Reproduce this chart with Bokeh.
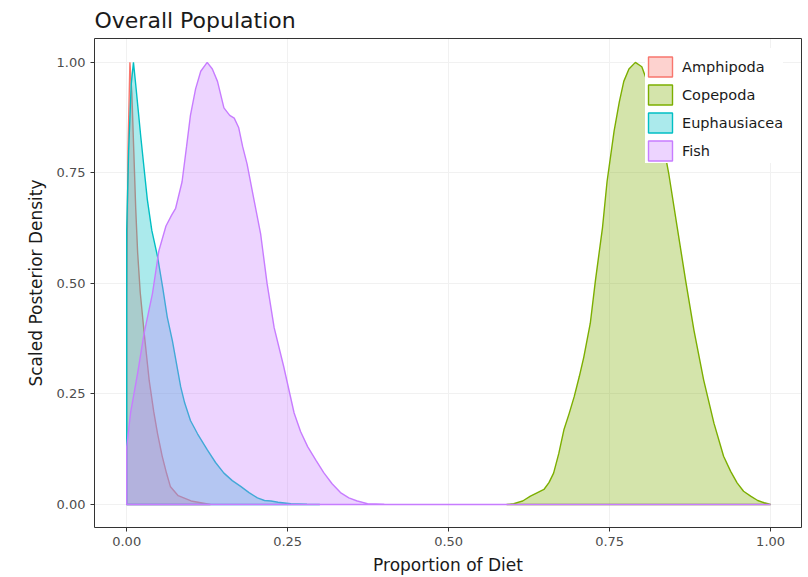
from bokeh.plotting import figure
from bokeh.models import (Range1d, FixedTicker, PrintfTickFormatter, Legend, LegendItem,
                          LinearAxis)
from bokeh.embed import file_html
from bokeh.resources import INLINE

# Prey groups and their colours
groups = ["Amphipoda", "Copepoda", "Euphausiacea", "Fish"]
colors = ["#F8766D", "#7CAE00", "#00BFC4", "#C77CFF"]

# Scaled posterior densities (proportion of diet -> density scaled to max 1)
amph_x = [0.0, 0.0, 0.002, 0.005, 0.008, 0.011, 0.014, 0.017, 0.021, 0.027, 0.035,
          0.042, 0.048, 0.055, 0.062, 0.068, 0.08, 0.1, 0.13]
amph_y = [0.0, 0.45, 0.8, 1.0, 0.93, 0.8, 0.67, 0.57, 0.48, 0.39, 0.28,
          0.21, 0.16, 0.11, 0.07, 0.04, 0.02, 0.008, 0.0]

cope_x = [0.59, 0.601, 0.615, 0.627, 0.638, 0.648, 0.656, 0.663, 0.671, 0.679, 0.687,
          0.695, 0.703, 0.71, 0.72, 0.728, 0.739, 0.746, 0.757, 0.765, 0.772, 0.78,
          0.79, 0.80, 0.815, 0.83, 0.842, 0.855, 0.868, 0.881, 0.896, 0.912, 0.927,
          0.938, 0.948, 0.958, 0.969, 0.98, 0.99, 1.0]
cope_y = [0.0, 0.002, 0.008, 0.019, 0.027, 0.034, 0.05, 0.071, 0.115, 0.169, 0.205,
          0.244, 0.29, 0.334, 0.41, 0.507, 0.627, 0.73, 0.845, 0.91, 0.957, 0.985,
          1.0, 0.99, 0.93, 0.84, 0.747, 0.627, 0.507, 0.394, 0.282, 0.184, 0.109,
          0.075, 0.049, 0.03, 0.019, 0.009, 0.004, 0.0]

euph_x = [0.0, 0.0, 0.003, 0.007, 0.0105, 0.014, 0.018, 0.022, 0.027, 0.032, 0.039,
          0.048, 0.056, 0.063, 0.071, 0.0784, 0.0839, 0.09, 0.099, 0.11, 0.125, 0.138,
          0.151, 0.164, 0.177, 0.19, 0.203, 0.214, 0.224, 0.235, 0.255, 0.28, 0.3]
euph_y = [0.0, 0.62, 0.8, 0.95, 1.0, 0.95, 0.89, 0.83, 0.76, 0.69, 0.62,
          0.56, 0.49, 0.424, 0.37, 0.31, 0.266, 0.23, 0.19, 0.16, 0.124, 0.095,
          0.071, 0.054, 0.041, 0.027, 0.015, 0.009, 0.008, 0.005, 0.002, 0.0005, 0.0]

fish_x = [0.0, 0.0, 0.006, 0.017, 0.027, 0.04, 0.05, 0.061, 0.07, 0.076, 0.086,
          0.093, 0.099, 0.107, 0.115, 0.125, 0.133, 0.141, 0.151, 0.16, 0.167, 0.174,
          0.18, 0.187, 0.198, 0.208, 0.218, 0.229, 0.244, 0.26, 0.27, 0.281, 0.294,
          0.306, 0.319, 0.332, 0.345, 0.358, 0.374, 0.4, 1.0]
fish_y = [0.0, 0.13, 0.207, 0.297, 0.387, 0.477, 0.574, 0.63, 0.655, 0.67, 0.73,
          0.81, 0.88, 0.94, 0.98, 1.0, 0.985, 0.957, 0.897, 0.88, 0.874, 0.852,
          0.81, 0.77, 0.687, 0.612, 0.5, 0.40, 0.311, 0.207, 0.165, 0.131, 0.1,
          0.072, 0.047, 0.027, 0.015, 0.008, 0.002, 0.0005, 0.0]

series = [(amph_x, amph_y), (cope_x, cope_y), (euph_x, euph_y), (fish_x, fish_y)]

x_ticks = [0.0, 0.25, 0.5, 0.75, 1.0]
y_ticks = [0.0, 0.25, 0.5, 0.75, 1.0]

FONT = "DejaVu Sans"
EDGE = "#333333"

p = figure(width=808, height=577, output_backend="svg", toolbar_location=None,
           x_range=Range1d(-0.05, 1.048), y_range=Range1d(-0.052, 1.054),
           min_border_left=94, min_border_right=7, min_border_top=37,
           min_border_bottom=49, title="Overall Population")

p.background_fill_color = "white"
p.border_fill_color = "white"
# panel border: left/bottom come from the axes, top/right from bare axes below
p.outline_line_color = None

p.title.text_font = FONT
p.title.text_font_size = "22px"
p.title.text_font_style = "normal"
p.title.text_color = "#1a1a1a"
p.title.offset = 0
p.title.standoff = 11

for ax, ticks, label in ((p.xaxis[0], x_ticks, "Proportion of Diet"),
                         (p.yaxis[0], y_ticks, "Scaled Posterior Density")):
    ax.ticker = FixedTicker(ticks=ticks)
    ax.formatter = PrintfTickFormatter(format="%.2f")
    ax.axis_label = label
    ax.axis_label_text_font = FONT
    ax.axis_label_text_font_size = "17px"
    ax.axis_label_text_font_style = "normal"
    ax.axis_label_text_color = "#1a1a1a"
    ax.major_label_text_font = FONT
    ax.major_label_text_font_size = "13px"
    ax.major_label_text_color = "#4d4d4d"
    ax.axis_line_color = EDGE
    ax.major_tick_line_color = EDGE
    ax.major_tick_out = 4
    ax.major_tick_in = 0
    ax.minor_tick_line_color = None
    ax.major_label_standoff = 5

p.xaxis[0].axis_label_standoff = 6
p.yaxis[0].axis_label_standoff = 8

# bare top and right edges of the panel box
for side in ("above", "right"):
    edge = LinearAxis(ticker=FixedTicker(ticks=[]), axis_line_color=EDGE,
                      major_tick_line_color=None, minor_tick_line_color=None,
                      major_label_text_font_size="0px", major_tick_out=0,
                      major_tick_in=0, major_label_standoff=0)
    p.add_layout(edge, side)

p.xgrid.grid_line_color = "#f1f1f1"
p.ygrid.grid_line_color = "#f1f1f1"

items = []
for name, col, (xs, ys) in zip(groups, colors, series):
    r = p.patch(xs, ys, fill_color=col, fill_alpha=0.33, line_color=col, line_width=1.4)
    items.append(LegendItem(label=name, renderers=[r]))

legend = Legend(items=items, location=(551, 364))
legend.title = " "
legend.title_text_font_size = "6px"
legend.title_standoff = 0
legend.label_text_font = FONT
legend.label_text_font_size = "14.5px"
legend.label_text_color = "#1a1a1a"
legend.glyph_width = 30
legend.glyph_height = 25
legend.label_height = 25
legend.spacing = 3
legend.padding = 10
legend.margin = 0
legend.label_standoff = 7
legend.border_line_color = None
legend.background_fill_color = "white"
legend.background_fill_alpha = 1.0
p.add_layout(legend, "center")

open("out.html", "w").write(file_html(p, INLINE))
